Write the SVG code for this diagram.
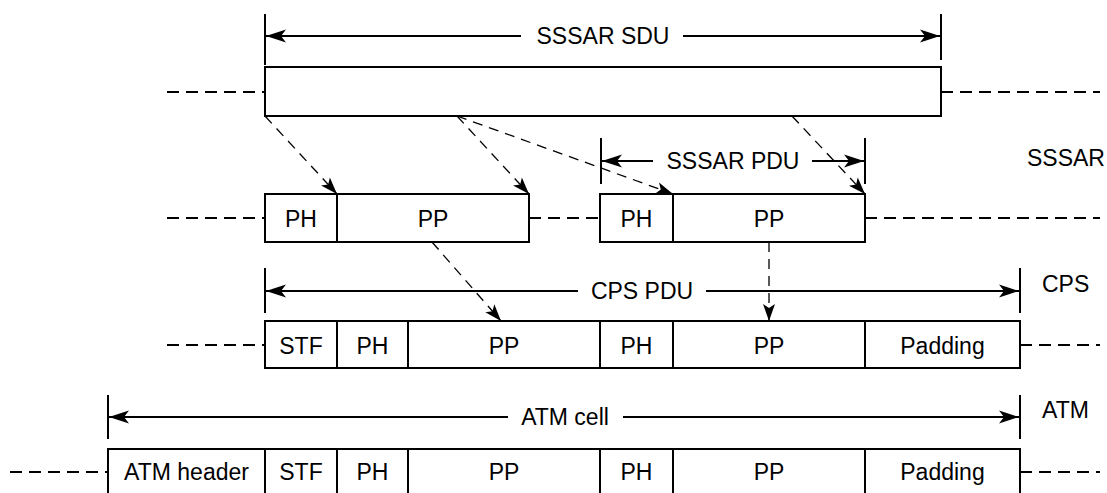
<svg xmlns="http://www.w3.org/2000/svg" width="1107" height="493" viewBox="0 0 1107 493">
<style>
.box{fill:#fff;stroke:#000;stroke-width:2}
.div{stroke:#000;stroke-width:2}
.ext{stroke:#000;stroke-width:2;stroke-dasharray:12 7;fill:none}
.dim{stroke:#000;stroke-width:2;fill:none}
.tick{stroke:#000;stroke-width:2}
.conn{stroke:#000;stroke-width:1.3;stroke-dasharray:10 7;fill:none}
text{font-family:"Liberation Sans",Arial,Helvetica,sans-serif;font-size:23px;fill:#000}
.c{text-anchor:middle}
</style>
<defs>
<marker id="ah" markerUnits="userSpaceOnUse" markerWidth="24" markerHeight="16" viewBox="-22 -8 24 16" refX="0" refY="0" orient="auto">
<path d="M0,0 L-20,-6.5 L-15,0 L-20,6.5 z" fill="#000"/>
</marker>
<marker id="ahs" markerUnits="userSpaceOnUse" markerWidth="22" markerHeight="16" viewBox="-20 -8 22 16" refX="0" refY="0" orient="auto">
<path d="M0,0 L-17,-6 L-13,0 L-17,6 z" fill="#000"/>
</marker>
</defs>

<!-- extension dashed lines -->
<g id="extensions">
<line class="ext" x1="167" y1="92" x2="265" y2="92"/>
<line class="ext" x1="941" y1="92" x2="1100" y2="92"/>
<line class="ext" x1="167" y1="218" x2="265" y2="218"/>
<line class="ext" x1="529" y1="218" x2="600" y2="218"/>
<line class="ext" x1="865" y1="218" x2="1100" y2="218"/>
<line class="ext" x1="167" y1="345" x2="265" y2="345"/>
<line class="ext" x1="1020" y1="345" x2="1100" y2="345"/>
<line class="ext" x1="10" y1="472" x2="108" y2="472"/>
<line class="ext" x1="1020" y1="472" x2="1100" y2="472"/>
</g>

<!-- Row 1: SSSAR SDU -->
<g id="sdu-dim">
<line class="tick" x1="265" y1="14" x2="265" y2="65"/>
<line class="tick" x1="941" y1="14" x2="941" y2="60"/>
<line class="dim" x1="521" y1="36" x2="266" y2="36" marker-end="url(#ah)"/>
<line class="dim" x1="683" y1="36" x2="940" y2="36" marker-end="url(#ah)"/>
<text class="c" x="603" y="44">SSSAR SDU</text>
</g>
<g id="sdu">
<rect class="box" x="265" y="67" width="676" height="49"/>
</g>

<!-- Row 2: SSSAR PDUs -->
<g id="pdu-dim">
<line class="tick" x1="601" y1="138" x2="601" y2="184"/>
<line class="tick" x1="865" y1="138" x2="865" y2="184"/>
<line class="dim" x1="653" y1="161" x2="602" y2="161" marker-end="url(#ah)"/>
<line class="dim" x1="812" y1="161" x2="864" y2="161" marker-end="url(#ah)"/>
<text class="c" x="733" y="169">SSSAR PDU</text>
</g>
<g id="pdu1">
<rect class="box" x="265" y="194" width="264" height="48"/>
<line class="div" x1="337" y1="194" x2="337" y2="242"/>
<text class="c" x="301" y="227">PH</text>
<text class="c" x="433" y="227">PP</text>
</g>
<g id="pdu2">
<rect class="box" x="600" y="194" width="265" height="48"/>
<line class="div" x1="673" y1="194" x2="673" y2="242"/>
<text class="c" x="636.5" y="227">PH</text>
<text class="c" x="769" y="227">PP</text>
</g>
<text id="lbl-sssar" x="1027" y="166">SSSAR</text>

<!-- Row 3: CPS PDU -->
<g id="cps-dim">
<line class="tick" x1="265" y1="268" x2="265" y2="313"/>
<line class="tick" x1="1020" y1="268" x2="1020" y2="313"/>
<line class="dim" x1="578" y1="291" x2="266" y2="291" marker-end="url(#ah)"/>
<line class="dim" x1="706" y1="291" x2="1019" y2="291" marker-end="url(#ah)"/>
<text class="c" x="642" y="299">CPS PDU</text>
</g>
<g id="cps">
<rect class="box" x="265" y="321" width="755" height="47"/>
<line class="div" x1="337" y1="321" x2="337" y2="368"/>
<line class="div" x1="408" y1="321" x2="408" y2="368"/>
<line class="div" x1="600" y1="321" x2="600" y2="368"/>
<line class="div" x1="673" y1="321" x2="673" y2="368"/>
<line class="div" x1="865" y1="321" x2="865" y2="368"/>
<text class="c" x="301" y="354">STF</text>
<text class="c" x="372.5" y="354">PH</text>
<text class="c" x="504" y="354">PP</text>
<text class="c" x="636.5" y="354">PH</text>
<text class="c" x="769" y="354">PP</text>
<text class="c" x="942.5" y="354">Padding</text>
</g>
<text id="lbl-cps" x="1042" y="292">CPS</text>

<!-- Row 4: ATM cell -->
<g id="atm-dim">
<line class="tick" x1="108" y1="395" x2="108" y2="439"/>
<line class="tick" x1="1020" y1="395" x2="1020" y2="439"/>
<line class="dim" x1="508" y1="417" x2="109" y2="417" marker-end="url(#ah)"/>
<line class="dim" x1="623" y1="417" x2="1019" y2="417" marker-end="url(#ah)"/>
<text class="c" x="565" y="425">ATM cell</text>
</g>
<g id="atm">
<rect class="box" x="108" y="449" width="912" height="50"/>
<line class="div" x1="265" y1="449" x2="265" y2="499"/>
<line class="div" x1="337" y1="449" x2="337" y2="499"/>
<line class="div" x1="408" y1="449" x2="408" y2="499"/>
<line class="div" x1="600" y1="449" x2="600" y2="499"/>
<line class="div" x1="673" y1="449" x2="673" y2="499"/>
<line class="div" x1="865" y1="449" x2="865" y2="499"/>
<text class="c" x="186.5" y="480">ATM header</text>
<text class="c" x="301" y="480">STF</text>
<text class="c" x="372.5" y="480">PH</text>
<text class="c" x="504" y="480">PP</text>
<text class="c" x="636.5" y="480">PH</text>
<text class="c" x="769" y="480">PP</text>
<text class="c" x="942.5" y="480">Padding</text>
</g>
<text id="lbl-atm" x="1042" y="418">ATM</text>

<!-- connectors -->
<g id="connectors">
<line class="conn" x1="265" y1="116" x2="337" y2="194" marker-end="url(#ahs)"/>
<line class="conn" x1="457" y1="116" x2="529" y2="194" marker-end="url(#ahs)"/>
<line class="conn" x1="457" y1="116" x2="673" y2="194" marker-end="url(#ahs)"/>
<line class="conn" x1="792" y1="116" x2="865" y2="194" marker-end="url(#ahs)"/>
<line class="conn" x1="432" y1="242" x2="501" y2="321" marker-end="url(#ahs)"/>
<line class="conn" x1="769" y1="242" x2="769" y2="321" marker-end="url(#ahs)"/>
</g>
</svg>
